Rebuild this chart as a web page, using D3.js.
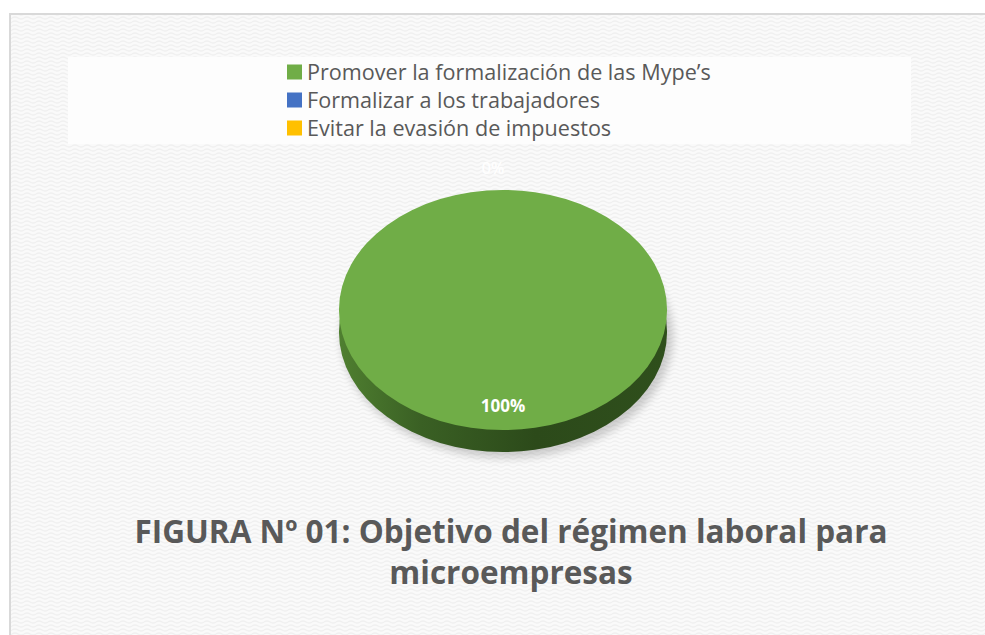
<!DOCTYPE html>
<html>
<head>
<meta charset="utf-8">
<script src="https://cdn.jsdelivr.net/npm/d3@7"></script>
<style>
  html, body { margin: 0; padding: 0; background: #ffffff; }
  svg { display: block; }
</style>
</head>
<body>
<div class="pie-chart-container"></div>
<script>
// Data.
const categories = [
    'Promover la formalización de las Mype’s',
    'Formalizar a los trabajadores',
    'Evitar la evasión de impuestos'
];
const values = [100, 0, 0];
const colors = ['#70ad47', '#4472c4', '#ffc000'];
const titleLines = ['FIGURA Nº 01: Objetivo del régimen laboral para', 'microempresas'];

const WIDTH = 985;
const HEIGHT = 635;
const FONT = '"Open Sans", Lato, sans-serif';
const svg = d3
    .select('.pie-chart-container')
    .append('svg')
    .attr('width', WIDTH)
    .attr('height', HEIGHT);

ready();

function ready() {
    const pie = {cx: 503, cy: 310, rx: 164, ry: 120, depth: 22};
    drawDefs();
    drawFrame();
    drawLegend();
    drawPie(pie);
    drawTitle();
}

function drawDefs() {
    const defs = svg.append('defs');

    // woven background texture
    const pattern = defs.append('pattern')
        .attr('id', 'weave')
        .attr('width', 12)
        .attr('height', 8)
        .attr('patternUnits', 'userSpaceOnUse');
    pattern.append('rect')
        .attr('width', 12).attr('height', 8)
        .attr('fill', '#fafafa');
    pattern.append('path')
        .attr('d', 'M0,2 Q3,0 6,2 T12,2 M0,6 Q3,4 6,6 T12,6')
        .attr('fill', 'none')
        .attr('stroke', '#f0f0f0')
        .attr('stroke-width', 1.3);

    const side = defs.append('linearGradient')
        .attr('id', 'side-green')
        .attr('x1', '0%').attr('x2', '100%')
        .attr('y1', '0%').attr('y2', '0%');
    side.append('stop').attr('offset', '0%').attr('stop-color', '#4f7f30');
    side.append('stop').attr('offset', '25%').attr('stop-color', '#3a6024');
    side.append('stop').attr('offset', '60%').attr('stop-color', '#2c4a1a');
    side.append('stop').attr('offset', '100%').attr('stop-color', '#2f4f1c');

    const shadow = defs.append('filter')
        .attr('id', 'soft-shadow')
        .attr('x', '-20%').attr('y', '-20%')
        .attr('width', '140%').attr('height', '140%');
    shadow.append('feGaussianBlur').attr('stdDeviation', 4);
}

function drawFrame() {
    svg.append('rect')
        .attr('x', 10)
        .attr('y', 14)
        .attr('width', WIDTH)
        .attr('height', HEIGHT)
        .attr('fill', 'url(#weave)')
        .attr('stroke', '#d9d9d9')
        .attr('stroke-width', 2);
}

function drawLegend() {
    svg.append('rect')
        .attr('x', 68)
        .attr('y', 57)
        .attr('width', 843)
        .attr('height', 87)
        .attr('fill', '#fdfdfd');

    const rowScale = d3.scalePoint()
        .domain(categories)
        .range([72, 128]);

    const items = svg.append('g')
        .attr('class', 'legend')
        .selectAll('g')
        .data(categories)
        .enter()
        .append('g')
        .attr('transform', d => `translate(287, ${rowScale(d)})`);

    items.append('rect')
        .attr('x', 0)
        .attr('y', -7.5)
        .attr('width', 15)
        .attr('height', 15)
        .attr('fill', (d, i) => colors[i]);

    items.append('text')
        .attr('x', 20)
        .attr('y', 0)
        .attr('dy', '0.35em')
        .style('font-family', FONT)
        .style('font-size', '21.6px')
        .style('fill', '#595959')
        .text(d => d);
}

function drawPie(p) {
    const total = d3.sum(values);
    const arcs = d3.pie()
        .sort(null)
        .value(d => d)(values);

    const arc = d3.arc()
        .innerRadius(0)
        .outerRadius(p.rx);

    const squash = p.ry / p.rx;

    // shadow under the disk
    svg.append('ellipse')
        .attr('cx', p.cx + 4)
        .attr('cy', p.cy + p.depth + 4)
        .attr('rx', p.rx + 2)
        .attr('ry', p.ry + 2)
        .attr('fill', '#000')
        .attr('opacity', 0.18)
        .attr('filter', 'url(#soft-shadow)');

    // side wall
    svg.append('g')
        .attr('transform', `translate(${p.cx}, ${p.cy + p.depth}) scale(1, ${squash})`)
        .selectAll('path')
        .data(arcs.filter(d => d.value > 0))
        .enter()
        .append('path')
        .attr('d', arc)
        .attr('fill', 'url(#side-green)');

    // top face
    svg.append('g')
        .attr('transform', `translate(${p.cx}, ${p.cy}) scale(1, ${squash})`)
        .selectAll('path')
        .data(arcs.filter(d => d.value > 0))
        .enter()
        .append('path')
        .attr('d', arc)
        .attr('fill', (d) => colors[d.index]);

    // labels
    svg.append('g')
        .attr('class', 'labels')
        .selectAll('text')
        .data(arcs)
        .enter()
        .append('text')
        .attr('x', d => {
            const a = labelAngle(d);
            return p.cx + Math.sin(a) * p.rx * labelRadius(d) - (d.value === 0 ? 10 : 0);
        })
        .attr('y', d => {
            const a = labelAngle(d);
            return p.cy - Math.cos(a) * p.ry * labelRadius(d);
        })
        .attr('dy', '0.35em')
        .attr('text-anchor', 'middle')
        .style('font-family', FONT)
        .style('font-size', d => d.value > 0 ? '17px' : '16px')
        .style('font-weight', d => d.value > 0 ? 'bold' : 'normal')
        .style('fill', '#ffffff')
        .text(d => `${Math.round(d.value / total * 100)}%`);
}

function labelAngle(d) {
    return (d.startAngle + d.endAngle) / 2;
}

function labelRadius(d) {
    return d.value > 0 ? 0.8 : 1.18;
}

function drawTitle() {
    svg.append('text')
        .attr('class', 'chart-title')
        .attr('x', 511)
        .attr('y', 543)
        .attr('text-anchor', 'middle')
        .style('font-family', FONT)
        .style('font-size', '31.5px')
        .style('font-weight', 'bold')
        .style('fill', '#595959')
        .selectAll('tspan')
        .data(titleLines)
        .enter()
        .append('tspan')
        .attr('x', 511)
        .attr('dy', (d, i) => i === 0 ? 0 : 41)
        .text(d => d);
}
</script>
</body>
</html>
